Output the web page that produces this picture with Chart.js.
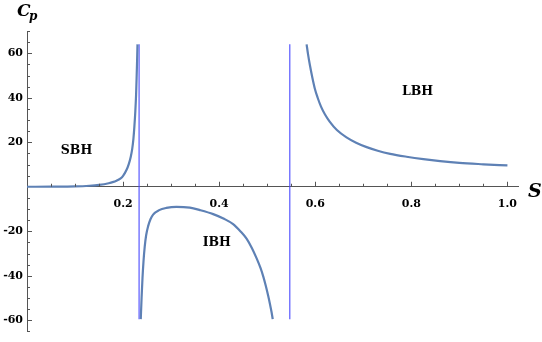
<!DOCTYPE html>
<html lang="en">
  <head>
    <meta charset="UTF-8" />
    <title>Cp vs S</title>
    <script src="https://cdn.jsdelivr.net/npm/chart.js"></script>
    <style>
      html, body { margin: 0; padding: 0; background: #fff; }
      #wrap { width: 542px; height: 342px; position: relative; }
    </style>
  </head>
  <body>
    <div id="wrap"><canvas id="cpChart"></canvas></div>

    <script>
      // small black hole branch
      const sbhS = [0, 0.05, 0.1, 0.13, 0.15, 0.17, 0.18, 0.185, 0.195, 0.2, 0.207, 0.212, 0.216, 0.219, 0.2215, 0.2235, 0.2255, 0.227, 0.2283, 0.2292, 0.23]
      const sbhC = [0, 0.03, 0.15, 0.45, 0.85, 1.6, 2.2, 2.6, 3.8, 4.9, 7.5, 10.3, 13.5, 17, 21.5, 27, 34, 41, 50, 57, 64]

      // intermediate black hole branch
      const ibhS = [0.2368, 0.2385, 0.2404, 0.2425, 0.245, 0.248, 0.252, 0.257, 0.2625, 0.275, 0.29, 0.311, 0.339, 0.36, 0.3875, 0.41, 0.429, 0.445, 0.457, 0.468, 0.478, 0.486, 0.492, 0.497, 0.502, 0.506, 0.509, 0.5115]
      const ibhC = [-59.5, -50, -41, -33.5, -27, -21.8, -17.8, -14.6, -12.5, -10.5, -9.5, -9.0, -9.4, -10.5, -12.3, -14.4, -16.8, -20.2, -23.3, -27.5, -32.2, -36.5, -40.5, -44.5, -49, -53, -56.3, -59.5]

      // large black hole branch
      const lbhS = [0.582, 0.585, 0.589, 0.594, 0.599, 0.605, 0.612, 0.62, 0.63, 0.645, 0.665, 0.685, 0.707, 0.73, 0.756, 0.79, 0.825, 0.86, 0.9, 0.95, 1.0]
      const lbhC = [64, 59.5, 54.5, 49, 44.2, 40, 36, 32.6, 29.3, 25.5, 22.2, 19.8, 17.8, 16.2, 14.8, 13.5, 12.4, 11.5, 10.7, 10.1, 9.6]

      // vertical divergence lines
      const divS = [0.2333, 0.547]
      const divC = [64, -59.5]

      const xTicks = [0.2, 0.4, 0.6, 0.8, 1.0]
      const yTicks = [-60, -40, -20, 20, 40, 60]

      const regionNames = ['SBH', 'IBH', 'LBH']
      const regionS = [0.103, 0.395, 0.813]
      const regionC = [16, -25.2, 42.7]

      const curveColor = '#5e81b5'
      const lineColor = 'rgba(70, 70, 255, 0.9)'
      const serif = "'DejaVu Serif', serif"

      const toPts = (xs, ys) => xs.map((x, i) => ({ x: x, y: ys[i] }))

      const curve = (pts) => ({
        data: pts,
        showLine: true,
        borderColor: curveColor,
        borderWidth: 2.2,
        pointRadius: 0,
        cubicInterpolationMode: 'monotone',
      })
      const vline = (s) => ({
        data: [{ x: s, y: divC[0] }, { x: s, y: divC[1] }],
        showLine: true,
        borderColor: lineColor,
        borderWidth: 1.2,
        pointRadius: 0,
      })

      // minor/major ticks pointing into the plot, and text annotations
      const decor = {
        id: 'decor',
        afterDatasetsDraw(chart) {
          const ctx = chart.ctx
          const xs = chart.scales.x
          const ys = chart.scales.y
          const x0 = xs.getPixelForValue(0)
          const y0 = ys.getPixelForValue(0)
          ctx.save()
          ctx.strokeStyle = '#555'
          ctx.lineWidth = 1
          ctx.beginPath()
          for (let i = 1; i <= 20; i++) {
            const v = i * 0.05
            const px = Math.round(xs.getPixelForValue(v)) + 0.5
            const len = i % 4 === 0 ? 5 : 3
            ctx.moveTo(px, y0)
            ctx.lineTo(px, y0 - len)
          }
          for (let v = -65; v <= 70; v += 5) {
            if (v === 0) continue
            const py = Math.round(ys.getPixelForValue(v)) + 0.5
            const len = v % 20 === 0 ? 5 : 3
            ctx.moveTo(x0, py)
            ctx.lineTo(x0 + len, py)
          }
          ctx.stroke()

          ctx.fillStyle = '#000'
          ctx.textAlign = 'center'
          ctx.textBaseline = 'middle'
          ctx.font = 'bold 12.5px ' + serif
          regionNames.forEach((name, i) => {
            ctx.fillText(name, xs.getPixelForValue(regionS[i]), ys.getPixelForValue(regionC[i]))
          })

          // axis labels
          ctx.textAlign = 'left'
          ctx.textBaseline = 'alphabetic'
          ctx.font = 'italic bold 19px ' + serif
          ctx.fillText('S', 528, 197)
          ctx.font = 'italic bold 17px ' + serif
          ctx.fillText('C', 17, 16)
          ctx.font = 'italic bold 12px ' + serif
          ctx.fillText('p', 29, 20)
          ctx.restore()
        },
      }

      new Chart(document.getElementById('cpChart'), {
        type: 'scatter',
        data: {
          datasets: [
            curve(toPts(sbhS, sbhC)),
            curve(toPts(ibhS, ibhC)),
            curve(toPts(lbhS, lbhC)),
            vline(divS[0]),
            vline(divS[1]),
          ],
        },
        options: {
          responsive: true,
          maintainAspectRatio: false,
          animation: false,
          layout: { padding: { top: 31, bottom: 4, left: 0, right: 24 } },
          plugins: { legend: { display: false }, tooltip: { enabled: false } },
          scales: {
            x: {
              type: 'linear',
              min: 0,
              max: 1.022,
              position: { y: 0 },
              grid: { display: false, drawTicks: false },
              border: { display: true, color: '#555', width: 1 },
              afterBuildTicks: (s) => { s.ticks = xTicks.map((v) => ({ value: v })) },
              ticks: {
                padding: 11,
                color: '#000',
                font: { family: serif, size: 11, weight: 'bold' },
                callback: (v) => v.toFixed(1),
              },
            },
            y: {
              type: 'linear',
              min: -65,
              max: 70,
              position: 'left',
              grid: { display: false, drawTicks: false },
              border: { display: true, color: '#555', width: 1 },
              afterBuildTicks: (s) => { s.ticks = yTicks.map((v) => ({ value: v })) },
              afterFit: (s) => { s.width = 27 },
              ticks: {
                padding: 4,
                color: '#000',
                font: { family: serif, size: 11, weight: 'bold' },
                callback: (v) => String(v),
              },
            },
          },
        },
        plugins: [decor],
      })
    </script>
  </body>
</html>
